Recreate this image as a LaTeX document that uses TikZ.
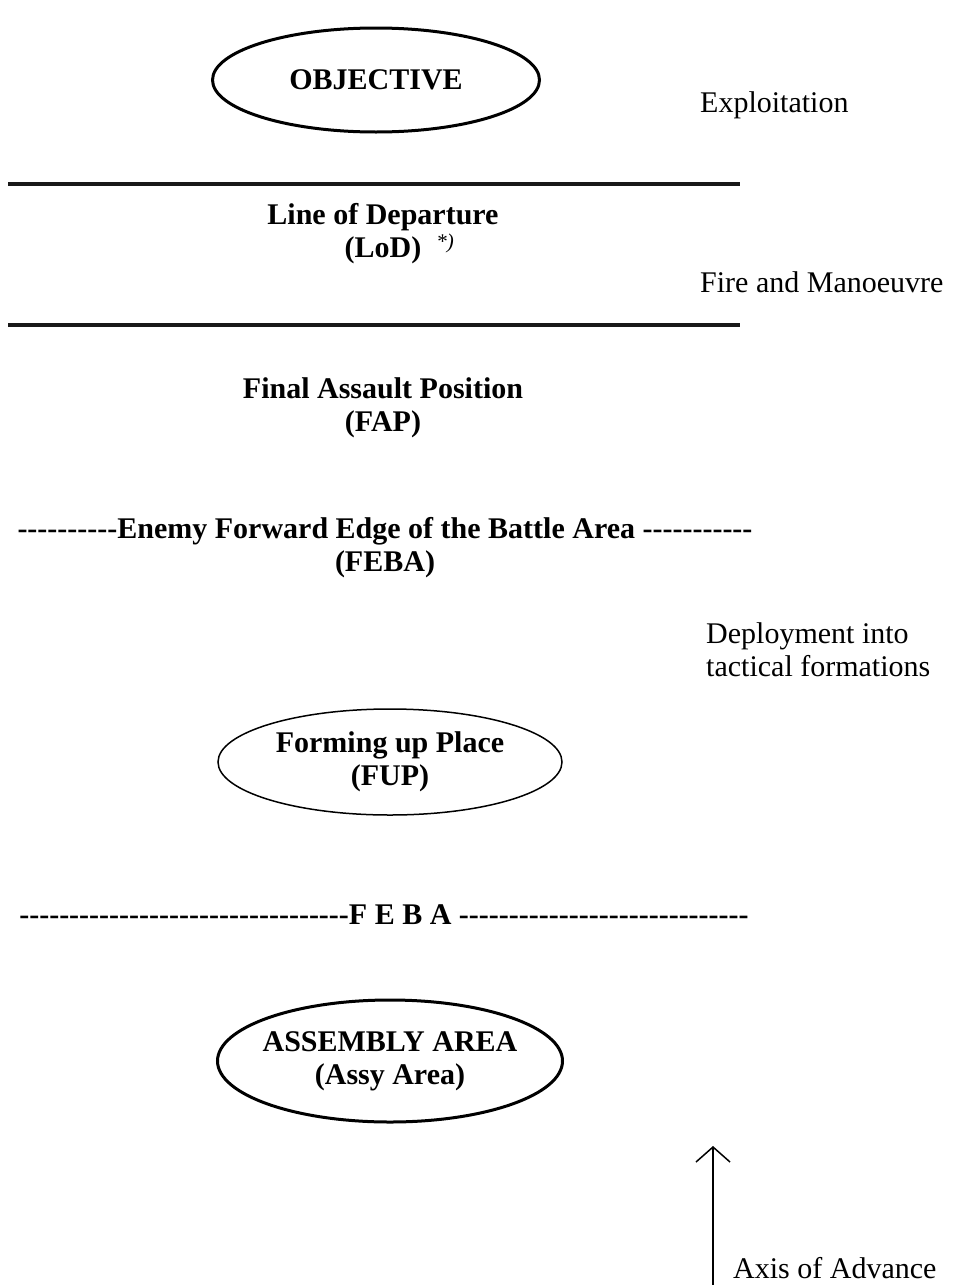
\documentclass[tikz,border=0pt]{standalone}
\usepackage{fontspec}
\setmainfont{Liberation Serif}
\usetikzlibrary{shapes.geometric,arrows.meta}
\newcommand\hyphens[1]{\foreach \i in {1,...,#1}{-}}
\tikzset{
  txt/.style={font=\fontsize{30}{33}\selectfont,inner sep=0pt},
  txtbf/.style={font=\fontsize{30}{33}\selectfont\bfseries,align=center,inner sep=0pt},
  area/.style={ellipse,draw,inner sep=0pt},
  phaseline/.style={line width=4pt,color=black!90},
}
\begin{document}
\begin{tikzpicture}[x=1pt,y=-1pt]
	\useasboundingbox (0,0) rectangle (954,1285);
	% objective and exploitation
	\node[area,line width=3pt,minimum width=327,minimum height=104] (obj) at (376,80) {};
	\node[txtbf] (objtxt) at (obj) {OBJECTIVE};
	\node[txt,anchor=west] (exploit) at (700,105) {Exploitation};
	% line of departure
	\draw[phaseline] (8,184) -- (740,184);
	\draw[phaseline] (8,325) -- (740,325);
	\node[txtbf] (lod) at (383,234) {Line of Departure\\(LoD)\rlap{\hspace{0.5em}\textsuperscript{\normalfont\itshape *)}}};
	\node[txt,anchor=west] (firemov) at (700,282) {Fire and Manoeuvre};
	% assault position and enemy feba
	\node[txtbf] (fap) at (383,408) {Final Assault Position\\(FAP)};
	\node[txtbf] (enemyfeba) at (385,548) {\hyphens{10}Enemy Forward Edge of the Battle Area \hyphens{11}\\(FEBA)};
	\node[txt,anchor=west,align=left] (deploy) at (706,650) {Deployment into\\tactical formations};
	% forming up place
	\node[area,line width=1.5pt,minimum width=344,minimum height=106] (fup) at (390,762) {};
	\node[txtbf] (fuptxt) at (fup) {Forming up Place\\(FUP)};
	\node[txtbf] (feba) at (384,915) {\hyphens{33}F E B A \hyphens{29}};
	% assembly area
	\node[area,line width=3pt,minimum width=345,minimum height=122] (assy) at (390,1061) {};
	\node[txtbf] (assytxt) at (assy) {ASSEMBLY AREA\\(Assy Area)};
	% axis of advance
	\coordinate (axisfoot) at (713,1285);
	\coordinate (axistip) at (713,1146);
	\draw[line width=1.5pt,-{Straight Barb[length=15pt,width=34pt]}] (axisfoot) -- (axistip);
	\node[txt,anchor=west] (axis) at (733,1268) {Axis of Advance};
\end{tikzpicture}
\end{document}
